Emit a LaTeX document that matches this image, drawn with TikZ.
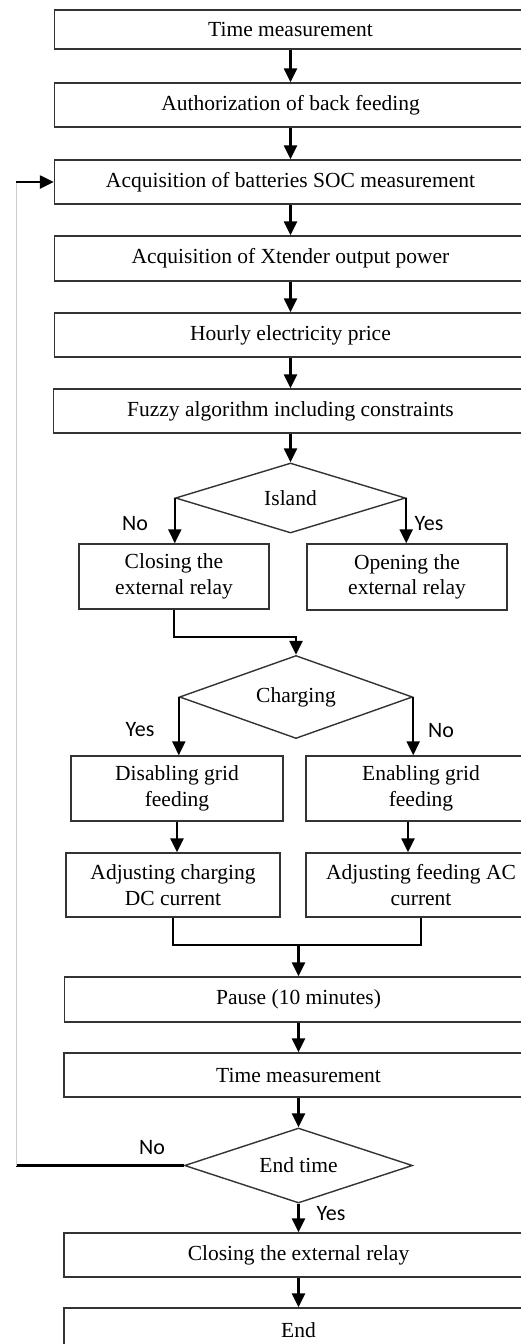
\documentclass[tikz,border=0pt]{standalone}
\usepackage{fontspec}
\setmainfont{Liberation Serif}
\newfontfamily\lblfont{Carlito}
\usetikzlibrary{shapes.geometric,arrows.meta}

\begin{document}
\begin{tikzpicture}[x=1pt,y=-1pt,
  procbox/.style={draw=black!80, line width=1.4pt, inner sep=0pt, align=center,
    font=\fontsize{21.5}{25.5}\selectfont},
  decbox/.style={procbox, diamond, aspect=3},
  flow/.style={-{Triangle[width=13pt,length=14pt]}, line width=2.4pt},
  lbl/.style={font=\lblfont\fontsize{22}{24}\selectfont}]
\useasboundingbox (0,0) rectangle (521,1344);
\clip (0,0) rectangle (521,1344);

% Main column of steps
\node[procbox, minimum width=472, minimum height=39] (tmA) at (290.5,29.5) {Time measurement};
\node[procbox, minimum width=472, minimum height=44] (auth) at (290.5,105) {Authorization of back feeding};
\node[procbox, minimum width=472, minimum height=44] (soc) at (290.5,182) {Acquisition of batteries SOC measurement};
\node[procbox, minimum width=472, minimum height=45] (xt) at (290.5,258.5) {Acquisition of Xtender output power};
\node[procbox, minimum width=472, minimum height=44] (price) at (290.5,335) {Hourly electricity price};
\node[procbox, minimum width=474, minimum height=44] (fuzzy) at (290.5,411) {Fuzzy algorithm including constraints};

% Island decision
\node[decbox, minimum width=230, minimum height=70] (island) at (290.5,498) {Island};
\node[procbox, minimum width=190, minimum height=65] (closeA) at (174,576.5) {Closing the\\external relay};
\node[procbox, minimum width=200, minimum height=66] (openA) at (407,577) {Opening the\\external relay};

% Charging decision
\node[decbox, minimum width=233, minimum height=83] (charging) at (296,697) {Charging};
\node[procbox, minimum width=212, minimum height=65] (disab) at (177,788.5) {Disabling grid\\feeding};
\node[procbox, minimum width=230, minimum height=65] (enab) at (421,788.5) {Enabling grid\\feeding};
\node[procbox, minimum width=214, minimum height=64] (adjDC) at (173,885) {Adjusting charging\\DC current};
\node[procbox, minimum width=230, minimum height=64] (adjAC) at (421,885) {Adjusting feeding AC\\current};

% Tail of the loop
\node[procbox, minimum width=468, minimum height=45] (pause) at (298.5,999.5) {Pause (10 minutes)};
\node[procbox, minimum width=469, minimum height=44] (tmB) at (298.5,1075) {Time measurement};
\node[decbox, minimum width=228, minimum height=75] (endt) at (298.5,1165.5) {End time};
\node[procbox, minimum width=469, minimum height=44] (closeB) at (298.5,1255) {Closing the external relay};
\node[procbox, minimum width=469, minimum height=44] (fin) at (298.5,1330) {End};

% Branch labels
\node[lbl] (noA) at (135,524) {No};
\node[lbl] (yesA) at (429,524) {Yes};
\node[lbl] (yesB) at (140,730) {Yes};
\node[lbl] (noB) at (441,731) {No};
\node[lbl] (noC) at (152,1148) {No};
\node[lbl] (yesC) at (331,1214) {Yes};

% Helper points
\coordinate (J) at (0,637);
\coordinate (M) at (298.5,945);
\coordinate (L1) at (16,1165.5);
\coordinate (L2) at (16,182);

% Straight arrows
\draw[flow] (tmA) -- (auth);
\draw[flow] (auth) -- (soc);
\draw[flow] (soc) -- (xt);
\draw[flow] (xt) -- (price);
\draw[flow] (price) -- (fuzzy);
\draw[flow] (fuzzy) -- (island);

% Island branches
\draw[flow] (island.west) -- (island.west |- closeA.north);
\draw[flow] (island.east) -- (island.east |- openA.north);
\draw[flow] (closeA.south) -- (closeA.south |- J) -| (charging.north);

% Charging branches
\draw[flow] (charging.west) -- (charging.west |- disab.north);
\draw[flow] (charging.east) -- (charging.east |- enab.north);
\draw[flow] (disab.south) -- (disab.south |- adjDC.north);
\draw[flow] ([xshift=-13pt]enab.south) -- ([xshift=-13pt]adjAC.north);
\draw[line width=1.4pt] (adjDC.south) |- (M) -| (adjAC.south);
\draw[flow] (M) -- (pause.north);

\draw[flow] (pause) -- (tmB);
\draw[flow] (tmB) -- (endt);
\draw[flow] (endt.south) -- (closeB.north);
\draw[flow] (closeB) -- (fin);

% Loop back to SOC measurement
\draw[line width=2.2pt] (endt.west) -- (L1);
\draw[black!20, line width=0.8pt] (L1) -- (L2);
\draw[flow] (L2) -- (soc.west);

\end{tikzpicture}
\end{document}
